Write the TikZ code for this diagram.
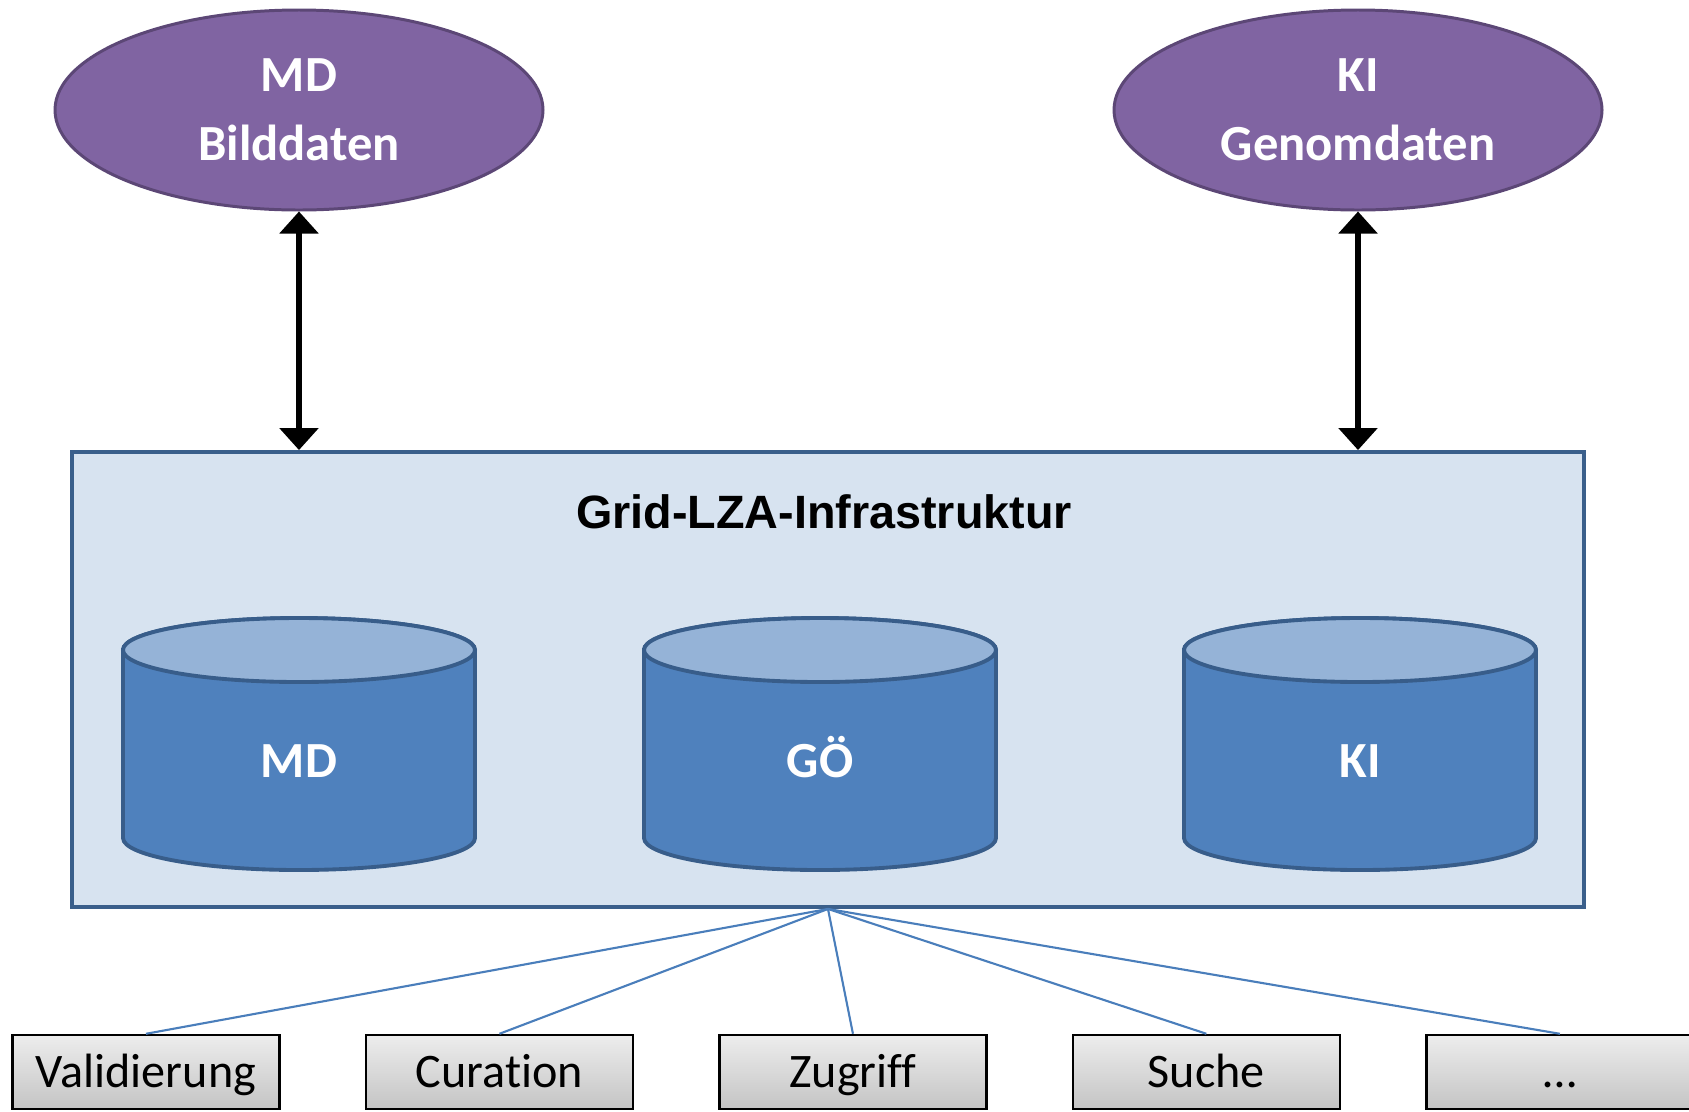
\documentclass[tikz,border=0pt]{standalone}
\usepackage{fontspec}
\setmainfont{Carlito}[Ligatures=NoCommon]
\newfontfamily\titlefont{Liberation Sans}
\usepackage{tikz}
\usetikzlibrary{shapes,arrows,arrows.meta,positioning}

\definecolor{purpleFill}{RGB}{128,100,162}
\definecolor{purpleLine}{RGB}{92,71,118}
\definecolor{gridFill}{RGB}{215,227,240}
\definecolor{gridLine}{RGB}{58,95,139}
\definecolor{cylBody}{RGB}{79,129,189}
\definecolor{cylTop}{RGB}{149,179,215}
\definecolor{cylLine}{RGB}{56,93,138}
\definecolor{linkBlue}{RGB}{74,126,187}
\definecolor{boxTop}{RGB}{237,237,237}
\definecolor{boxBot}{RGB}{196,196,196}

% a storage drum: #1 = x of its middle, #2 = name, #3 = label
\newcommand{\dbstore}[3]{%
	\filldraw[store, fill=cylBody] (#1-1.76,-6.50) -- (#1-1.76,-8.38)
	arc[start angle=180, end angle=360, x radius=1.76, y radius=0.32] -- (#1+1.76,-6.50)
	arc[start angle=0, end angle=180, x radius=1.76, y radius=0.32] -- cycle;
	\filldraw[store, fill=cylTop] (#1,-6.50) ellipse[x radius=1.76, y radius=0.32];
	\node[storelabel] (#2) at (#1,-7.77) {#3};
}

\begin{document}
\begin{tikzpicture}
	\tikzstyle{every node}=[font=\fontsize{14.4}{18.5}\selectfont]
	\tikzstyle{source}=[ellipse, draw=purpleLine, fill=purpleFill, line width=0.85pt,
	minimum width=4.88cm, minimum height=2cm, text=white, font=\fontsize{14.4}{19.5}\selectfont\bfseries, align=center]
	\tikzstyle{store}=[draw=cylLine, line width=1.1pt]
	\tikzstyle{storelabel}=[text=white, font=\fontsize{14.4}{18.5}\selectfont\bfseries, anchor=base]
	\tikzstyle{service}=[draw=black, line width=0.7pt, top color=boxTop, bottom color=boxBot,
	minimum width=2.67cm, minimum height=0.74cm, text height=10.5pt, text depth=1.5pt,
	font=\fontsize{13.7}{16}\selectfont]
	\tikzstyle{both}=[line width=1.7pt, {Triangle[width=0.38cm,length=0.22cm]}-{Triangle[width=0.38cm,length=0.22cm]}]
	\tikzstyle{link}=[draw=linkBlue, line width=0.6pt]

	\useasboundingbox (0,0) rectangle (16.89,-11.11);

	% the two data sources on top
	\node[source] (srcMD) at (2.99,-1.10) {MD\\Bilddaten};
	\node[source] (srcKI) at (13.58,-1.10) {KI\\Genomdaten};

	% big box, the grid
	\node[draw=gridLine, fill=gridFill, line width=1.1pt,
	minimum width=15.12cm, minimum height=4.55cm] (grid) at (8.28,-6.795) {};
	\node[font=\fontsize{13.3}{16}\selectfont\titlefont\bfseries, anchor=base] (gridTitle) at (8.24,-5.28) {Grid-LZA-Infrastruktur};

	% storages inside the grid
	\dbstore{2.99}{dbMD}{MD}
	\dbstore{8.20}{dbGO}{GÖ}
	\dbstore{13.60}{dbKI}{KI}

	% arrows source <-> grid
	\draw[both] (srcMD.south) -- (srcMD.south |- grid.north);
	\draw[both] (srcKI.south) -- (srcKI.south |- grid.north);

	% services in the bottom row
	\node[service] (svcVal) at (1.46,-10.72) {Validierung};
	\node[service, right=0.84cm of svcVal] (svcCur) {Curation};
	\node[service, right=0.84cm of svcCur] (svcZug) {Zugriff};
	\node[service, right=0.84cm of svcZug] (svcSuc) {Suche};
	\node[service, right=0.84cm of svcSuc] (svcEtc) {\dots};

	\foreach \s in {svcVal,svcCur,svcZug,svcSuc,svcEtc}
	\draw[link] (grid.south) -- (\s.north);
\end{tikzpicture}
\end{document}
